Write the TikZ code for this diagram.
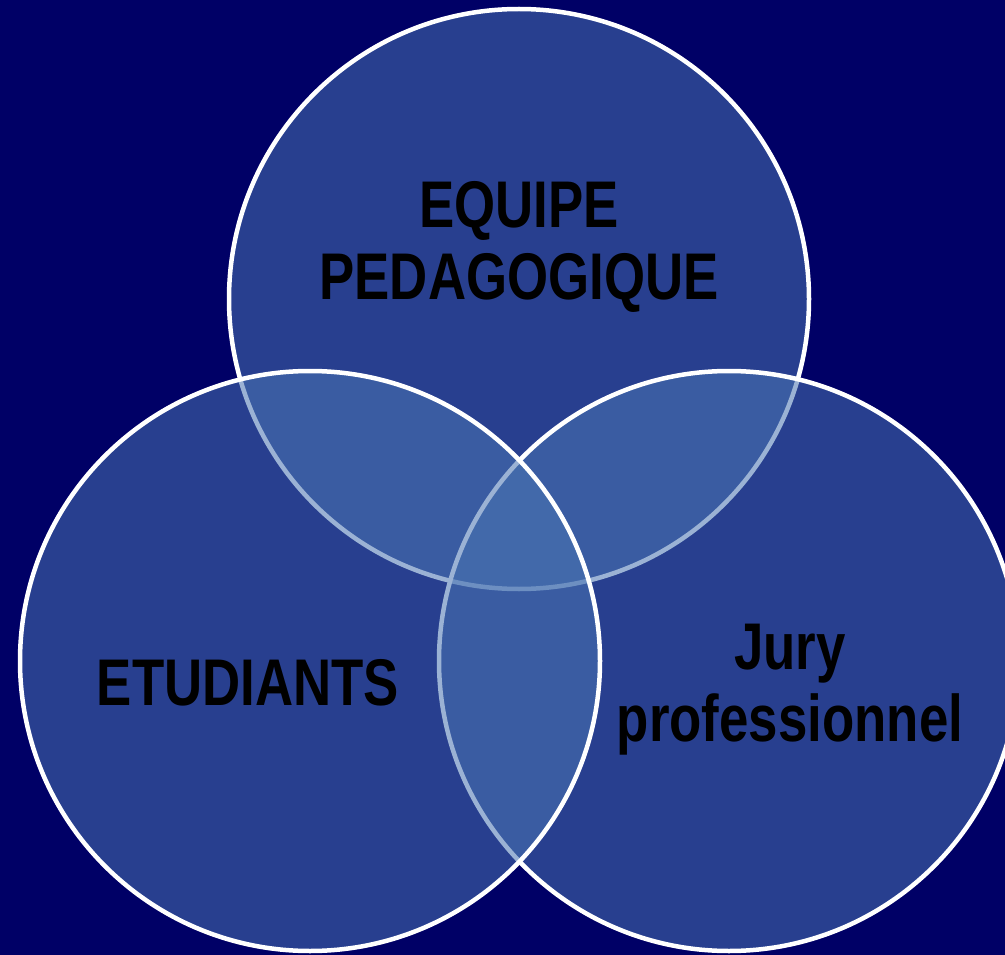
\documentclass[tikz,border=0pt]{standalone}
\usepackage{fontspec}
\usepackage{xcolor}
\usepackage{tikz}
\usetikzlibrary{positioning,shapes}

\newfontfamily\vennfont[FakeStretch=0.8]{Liberation Sans}

\definecolor{navybg}{RGB}{0,0,102}
\definecolor{vennblue}{RGB}{73,116,178}

\begin{document}
\begin{tikzpicture}[
    x=1pt, y=-1pt,
    vennset/.style={circle, draw=white, line width=4.5pt, fill=vennblue, fill opacity=0.55, draw opacity=1, minimum size=580pt, inner sep=0pt},
    vennlabel/.style={align=center, inner sep=0pt, text=black, font=\vennfont\bfseries\fontsize{66}{72}\selectfont}
]
% Background
\fill[navybg] (0,0) rectangle (1005,955);
\useasboundingbox (0,0) rectangle (1005,955);
\clip (0,0) rectangle (1005,955);

% Sets (order: top, right, left)
\node[vennset] (equipe) at (519,299) {};
\node[vennset] (jury) at (729,661) {};
\node[vennset] (etud) at (310,661) {};

% Labels
\node[vennlabel] (equipelbl) at (519,247) {EQUIPE\\PEDAGOGIQUE};
\node[vennlabel] (etudlbl) at (248,683) {ETUDIANTS};
\node[vennlabel] (jurylbl) at (790,690) {Jury\\professionnel};
\end{tikzpicture}
\end{document}
